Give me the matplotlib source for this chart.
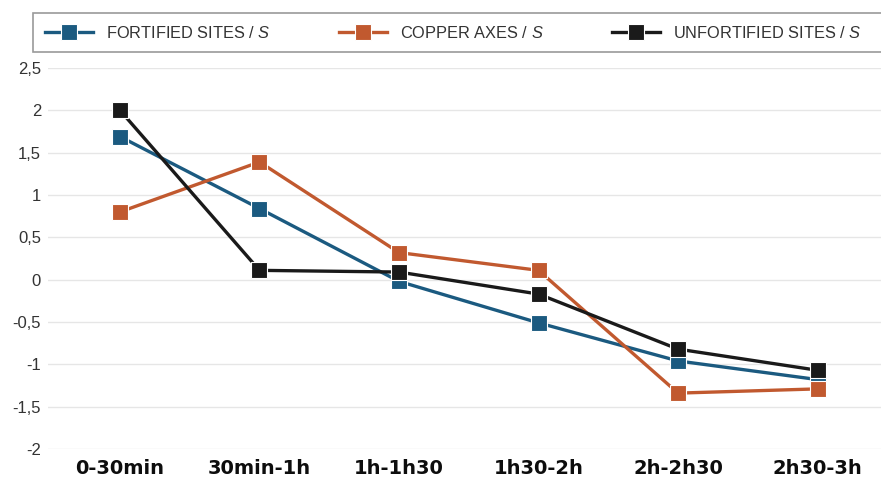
import matplotlib
matplotlib.use("Agg")
import matplotlib.pyplot as plt
from matplotlib.ticker import FuncFormatter
from matplotlib.patches import Rectangle

plt.rcParams["mathtext.fontset"] = "custom"
plt.rcParams["mathtext.it"] = "Liberation Sans:italic"
plt.rcParams["mathtext.rm"] = "Liberation Sans"

categories = ["0-30min", "30min-1h", "1h-1h30", "1h30-2h", "2h-2h30", "2h30-3h"]
fortified = [1.69, 0.84, -0.02, -0.51, -0.96, -1.18]
copper = [0.80, 1.39, 0.32, 0.11, -1.34, -1.29]
unfortified = [2.00, 0.11, 0.09, -0.17, -0.82, -1.07]
series_names = ["FORTIFIED SITES / $\\mathit{S}$", "COPPER AXES / $\\mathit{S}$",
                "UNFORTIFIED SITES / $\\mathit{S}$"]
colors = ["#1b5a80", "#c1592f", "#1a1a1a"]
yticks = [-2, -1.5, -1, -0.5, 0, 0.5, 1, 1.5, 2, 2.5]

W, H = 881, 479
fig = plt.figure(figsize=(W/100, H/100), dpi=100)
ax = fig.add_axes([48/W, 1-449/H, 833/W, 381/H])

x = list(range(len(categories)))
lines = []
for vals, name, c in zip([fortified, copper, unfortified], series_names, colors):
    ln, = ax.plot(x, vals, color=c, lw=2.4, marker="s", markersize=11.5,
                  markeredgecolor="white", markeredgewidth=0.8, label=name,
                  clip_on=False, zorder=3)
    lines.append(ln)

ax.set_ylim(-2, 2.5)
ax.set_xlim(-0.516, 5.455)
ax.set_yticks(yticks)
ax.yaxis.set_major_formatter(FuncFormatter(lambda v, p: ("%g" % v).replace(".", ",")))
ax.set_xticks(x)
ax.set_xticklabels(categories, fontsize=14, fontweight="bold", color="#0d0d0d",
                   family=["DejaVu Sans"])
ax.grid(axis="y", color="#e6e6e6", lw=1)
ax.set_axisbelow(True)
for s in ax.spines.values():
    s.set_visible(False)
ax.tick_params(axis="both", length=0)
ax.tick_params(axis="x", pad=7.5)
ax.tick_params(axis="y", pad=5, labelsize=12, labelcolor="#333333")
for t in ax.get_yticklabels():
    t.set_family(["Liberation Sans", "DejaVu Sans"])

# legend frame
fig.patches.append(Rectangle((33/W, 1-52/H), (W+10-33)/W, 39/H, transform=fig.transFigure,
                             facecolor="white", edgecolor="#9a9a9a", lw=1.2, zorder=0))
starts = [45, 339, 612]
for ln, xs in zip(lines, starts):
    fig.legend(handles=[ln], loc="center left", bbox_to_anchor=(xs/W, 1-32.5/H),
               frameon=False, borderpad=0, borderaxespad=0,
               prop={"family": ["Liberation Sans", "DejaVu Sans"], "size": 11.8},
               handlelength=2.93, handletextpad=0.8, labelcolor="#333333",
               markerscale=1.05)

fig.savefig("out.png", dpi=100)
